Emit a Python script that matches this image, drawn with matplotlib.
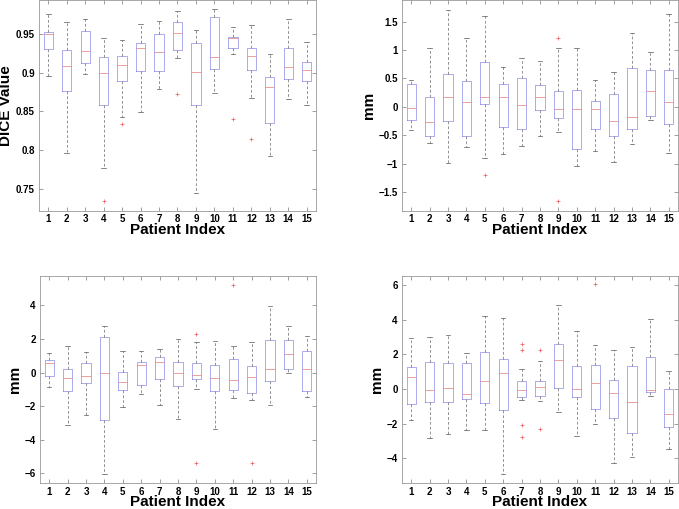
import matplotlib
matplotlib.use("Agg")
import matplotlib.pyplot as plt

plt.rcParams["font.family"] = ["Liberation Sans", "DejaVu Sans"]
plt.rcParams["font.weight"] = "bold"

patients = list(range(1, 16))

# --- DICE (top left) ---
dice_lo = [0.896, 0.797, 0.898, 0.777, 0.8425, 0.849, 0.879, 0.919, 0.745, 0.874, 0.924, 0.867, 0.7926, 0.8657, 0.859]
dice_q1 = [0.931, 0.876, 0.912, 0.858, 0.890, 0.9027, 0.9018, 0.930, 0.858, 0.9044, 0.9315, 0.9036, 0.8348, 0.892, 0.890]
dice_med = [0.9504, 0.9087, 0.928, 0.8997, 0.9096, 0.9315, 0.927, 0.951, 0.901, 0.9208, 0.9444, 0.9216, 0.881, 0.907, 0.9036]
dice_q3 = [0.953, 0.930, 0.954, 0.921, 0.9216, 0.939, 0.9496, 0.966, 0.938, 0.9715, 0.946, 0.9315, 0.895, 0.9315, 0.914]
dice_hi = [0.9754, 0.966, 0.969, 0.945, 0.942, 0.9625, 0.9668, 0.9797, 0.955, 0.9818, 0.9586, 0.9616, 0.924, 0.969, 0.940]
dice_out = [[], [], [], [0.734], [0.834], [], [], [0.8726], [], [], [0.840], [0.814], [], [], []]

# --- top right (mm) ---
tr_lo = [-0.41, -0.63, -0.988, -0.71, -0.894, -0.84, -0.694, -0.518, -0.453, -1.04, -0.78, -0.98, -0.647, -0.235, -0.82]
tr_q1 = [-0.235, -0.506, -0.253, -0.523, 0.04, -0.359, -0.40, -0.065, -0.206, -0.747, -0.40, -0.518, -0.388, -0.17, -0.31]
tr_med = [-0.03, -0.265, 0.165, 0.088, 0.165, 0.176, 0.024, 0.176, -0.047, -0.04, -0.047, -0.247, -0.188, 0.282, 0.088]
tr_q3 = [0.394, 0.165, 0.57, 0.453, 0.782, 0.394, 0.512, 0.376, 0.282, 0.30, 0.094, 0.224, 0.676, 0.647, 0.647]
tr_hi = [0.47, 1.03, 1.706, 1.218, 1.60, 0.694, 0.853, 0.81, 1.03, 1.03, 0.465, 0.606, 1.294, 0.97, 1.63]
tr_out = [[], [], [], [], [-1.21], [], [], [], [1.206, -1.665], [], [], [], [], [], []]

# --- bottom left (mm) ---
bl_lo = [-0.88, -3.14, -2.5, -6.04, -2.06, -1.27, -1.92, -2.78, -0.98, -3.37, -1.53, -1.61, -1.9, -0.04, -1.47]
bl_q1 = [-0.2, -1.12, -0.627, -2.84, -1.04, -0.745, -0.35, -0.82, -0.39, -1.12, -1.04, -1.22, -0.49, 0.196, -1.12]
bl_med = [0.55, -0.33, -0.216, 0.0, -0.55, 0.43, 0.647, -0.04, -0.12, -0.33, -0.41, -0.29, 0.235, 1.08, 0.235]
bl_q3 = [0.745, 0.216, 0.55, 2.1, 0.02, 0.647, 0.94, 0.647, 0.57, 0.47, 0.82, 0.39, 1.92, 1.92, 1.27]
bl_hi = [1.14, 1.61, 1.235, 2.8, 1.27, 1.27, 1.41, 2.0, 1.82, 1.86, 1.61, 1.82, 3.98, 2.8, 2.18]
bl_out = [[], [], [], [], [], [], [], [], [2.31, -5.35], [], [5.24], [-5.35], [], [], []]

# --- bottom right (mm) ---
br_lo = [-1.77, -2.82, -2.61, -2.39, -2.39, -4.92, -0.63, -0.67, -1.34, -2.73, -2.04, -4.27, -3.95, -0.38, -3.49]
br_q1 = [-0.88, -0.73, -0.73, -0.59, -0.82, -1.2, -0.48, -0.38, 0.04, -0.44, -1.16, -1.66, -2.52, -0.19, -2.19]
br_med = [0.67, -0.08, 0.04, -0.27, 0.48, 0.9, -0.06, 0.13, 1.68, 0.02, 0.36, -0.21, -0.73, -0.08, -1.47]
br_q3 = [1.28, 1.58, 1.53, 1.53, 2.14, 1.76, 0.48, 0.48, 2.61, 1.34, 1.41, 0.53, 1.35, 1.87, 0.02]
br_hi = [2.96, 3.01, 3.13, 2.06, 4.25, 4.1, 1.18, 1.62, 4.87, 3.34, 2.52, 2.25, 2.44, 4.06, 1.05]
br_out = [[], [], [], [], [], [], [2.63, 2.25, -2.1, -2.77], [2.25, -2.33], [], [], [6.05], [], [], [], []]


def make_stats(lo, q1, med, q3, hi, out):
    stats = []
    for i in range(len(lo)):
        stats.append({"whislo": lo[i], "q1": q1[i], "med": med[i],
                      "q3": q3[i], "whishi": hi[i], "fliers": out[i]})
    return stats


def draw_panel(ax, stats, ylim, yticks, yticklabels, ylabel):
    ax.bxp(stats, positions=patients, widths=0.5, capwidths=0.25,
           boxprops=dict(color="#8c8ce6", linewidth=0.5),
           medianprops=dict(color="#e87878", linewidth=0.5),
           whiskerprops=dict(color="#666666", linewidth=0.5, linestyle=(0, (4, 3))),
           capprops=dict(color="#555555", linewidth=0.5),
           flierprops=dict(marker="+", markeredgecolor="#e85a5a", markersize=3.5,
                           markeredgewidth=0.5, linestyle="none"))
    ax.set_xlim(0.5, 15.5)
    ax.set_ylim(*ylim)
    ax.set_xticks(patients)
    ax.set_xticklabels([str(p) for p in patients])
    ax.set_yticks(yticks)
    ax.set_yticklabels(yticklabels)
    ax.tick_params(direction="in", length=3, width=0.5, top=True, right=True,
                   labelsize=7, pad=3, color="#777777")
    ax.tick_params(axis="x", pad=2.5)
    for s in ax.spines.values():
        s.set_color("#999999")
        s.set_linewidth(0.6)
    ax.set_xlabel("Patient Index", fontsize=11, fontweight="bold", labelpad=-1)
    ax.set_ylabel(ylabel, fontsize=11, fontweight="bold", labelpad=2)


fig = plt.figure(figsize=(6.79, 5.09), dpi=100)
ax1 = fig.add_axes([0.0574, 0.5855, 0.408, 0.4145])
ax2 = fig.add_axes([0.592, 0.5855, 0.4065, 0.4145])
ax3 = fig.add_axes([0.0589, 0.051, 0.4065, 0.4068])
ax4 = fig.add_axes([0.592, 0.051, 0.4065, 0.4068])

draw_panel(ax1, make_stats(dice_lo, dice_q1, dice_med, dice_q3, dice_hi, dice_out),
           (0.7215, 0.994), [0.75, 0.8, 0.85, 0.9, 0.95],
           ["0.75", "0.8", "0.85", "0.9", "0.95"], "DICE Value")
draw_panel(ax2, make_stats(tr_lo, tr_q1, tr_med, tr_q3, tr_hi, tr_out),
           (-1.835, 1.88), [-1.5, -1, -0.5, 0, 0.5, 1, 1.5],
           ["\u22121.5", "\u22121", "\u22120.5", "0", "0.5", "1", "1.5"], "mm")
draw_panel(ax3, make_stats(bl_lo, bl_q1, bl_med, bl_q3, bl_hi, bl_out),
           (-6.57, 5.75), [-6, -4, -2, 0, 2, 4],
           ["\u22126", "\u22124", "\u22122", "0", "2", "4"], "mm")
draw_panel(ax4, make_stats(br_lo, br_q1, br_med, br_q3, br_hi, br_out),
           (-5.44, 6.54), [-4, -2, 0, 2, 4, 6],
           ["\u22124", "\u22122", "0", "2", "4", "6"], "mm")

fig.savefig("out.png", dpi=100)
